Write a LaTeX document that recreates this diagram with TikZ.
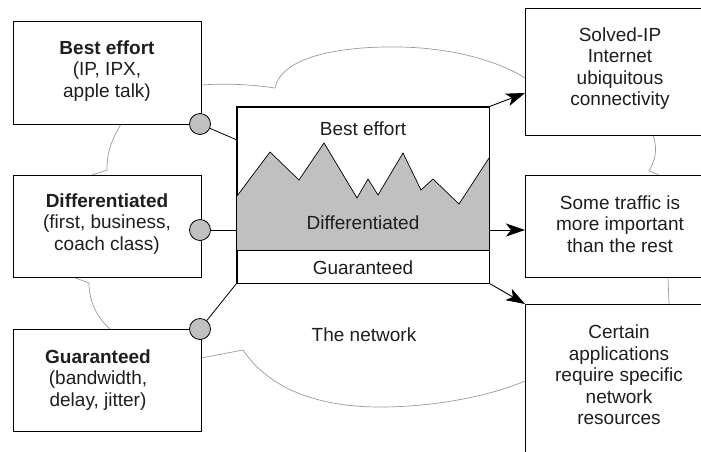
\documentclass[tikz,border=0pt]{standalone}
\usepackage{fontspec}
\setmainfont{Liberation Sans}
\usetikzlibrary{arrows.meta}
\definecolor{fillgray}{HTML}{C0C0C0}
\definecolor{cloudgray}{HTML}{9A9A9A}
\definecolor{txt}{HTML}{1E1E1E}
\tikzset{
  box/.style={draw=black, line width=0.9pt, rectangle, inner sep=0pt, fill=white},
  lbl/.style={align=center, text=txt, font=\fontsize{19}{21.5}\selectfont, inner sep=0pt},
  cloud/.style={draw=cloudgray, line width=0.7pt},
  port/.style={circle, draw=black, line width=0.8pt, fill=fillgray, minimum size=21pt, inner sep=0pt},
  link/.style={draw=black, line width=0.8pt},
  arr/.style={draw=black, line width=0.9pt, -{Stealth[length=19pt,width=13pt,inset=5pt]}}
}
\begin{document}
\begin{tikzpicture}[x=1pt,y=-1pt]
\clip (0,0) rectangle (701,451);
\fill[white] (0,0) rectangle (701,451);
% cloud outline fragments
\draw[cloud] (201,85) .. controls (230,83) and (255,85) .. (275,88)
  .. controls (282,55) and (345,46) .. (400,47) .. controls (455,48) and (500,62) .. (525,78);
\draw[cloud] (121,124) .. controls (112,140) and (107,150) .. (107,170) -- (92,175);
\draw[cloud] (73,277) -- (89,283) .. controls (89,305) and (100,320) .. (110,329);
\draw[cloud] (201,358) -- (243,350) .. controls (270,390) and (320,407) .. (380,407)
  .. controls (440,407) and (495,394) .. (525,381);
\draw[cloud] (653,135) .. controls (658,150) and (655,160) .. (649,171) -- (659,175);
\draw[cloud] (668,277) -- (669,304);
% left boxes
\node[box, minimum width=188pt, minimum height=103pt] (be) at (107,72.5) {};
\node[box, minimum width=188pt, minimum height=102pt] (df) at (107,226) {};
\node[box, minimum width=188pt, minimum height=102pt] (gu) at (107,380) {};
\node[lbl] (betxt) at (107,71) {\textbf{Best effort}\\(IP, IPX,\\apple talk)};
\node[lbl] (dftxt) at (107,224) {\textbf{Differentiated}\\(first, business,\\coach class)};
\node[lbl] (gutxt) at (98,380) {\textbf{Guaranteed}\\(bandwidth,\\delay, jitter)};
% right boxes
\node[box, minimum width=190pt, minimum height=127pt] (sol) at (620,71.5) {};
\node[box, minimum width=190pt, minimum height=102pt] (some) at (620,226) {};
\node[box, minimum width=190pt, minimum height=180pt] (cert) at (620,394) {};
\node[lbl] (soltxt) at (620,68.5) {Solved-IP\\Internet\\ubiquitous\\connectivity};
\node[lbl] (sometxt) at (620,224) {Some traffic is\\more important\\than the rest};
\node[lbl] (certtxt) at (619,375) {Certain\\applications\\require specific\\network\\resources};
% central network box
\node[box, minimum width=252pt, minimum height=176pt] (net) at (363,195) {};
\fill[fillgray] (237,196) -- (270,152) -- (299,180) -- (324,143) -- (357,198) -- (368,179)
  -- (378,195) -- (403,153) -- (421,190) -- (433,179) -- (459,204) -- (489,158)
  -- (489,250) -- (237,250) -- cycle;
\draw[black, line width=0.7pt] (237,196) -- (270,152) -- (299,180) -- (324,143) -- (357,198) -- (368,179)
  -- (378,195) -- (403,153) -- (421,190) -- (433,179) -- (459,204) -- (489,158);
\draw[black, line width=0.9pt] (237,250) -- (489,250);
\draw[black, line width=0.9pt] (net.south west) rectangle (net.north east);
\node[lbl] (tbe) at (363,129) {Best effort};
\node[lbl] (tdf) at (363,223) {Differentiated};
\node[lbl] (tgu) at (363,268) {Guaranteed};
\node[lbl] (tnet) at (364,335) {The network};
% ports and links
\coordinate (n1) at (237,140);
\coordinate (n2) at (237,230);
\node[port] (c1) at (200,124) {};
\node[port] (c2) at (200,230) {};
\node[port] (c3) at (200,329) {};
\draw[link] (c1) -- (n1);
\draw[link] (c2) -- (n2);
\draw[link] (c3) -- (net.south west);
% arrows to right boxes
\coordinate (a1) at (525,93);
\coordinate (a2) at (525,230);
\coordinate (a3) at (525,304);
\coordinate (s2) at (489,230);
\draw[arr] (net.north east) -- (a1);
\draw[arr] (s2) -- (a2);
\draw[arr] (net.south east) -- (a3);
\end{tikzpicture}
\end{document}
